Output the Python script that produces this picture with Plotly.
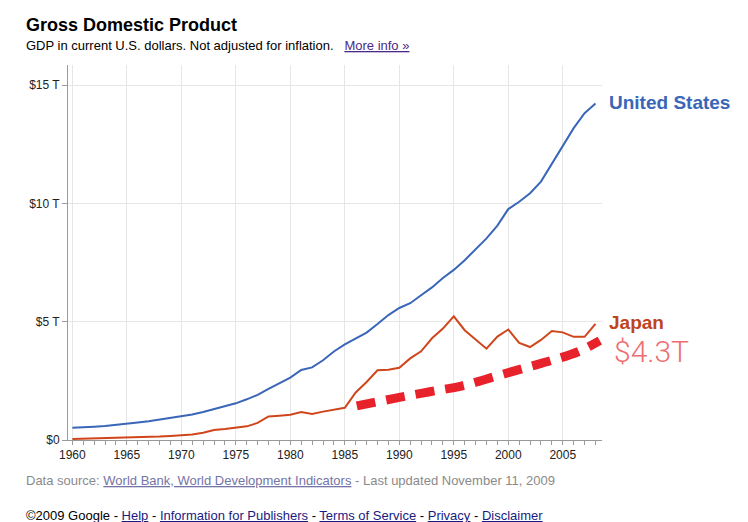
import plotly.graph_objects as go

years = list(range(1960, 2009))
us_gdp = [0.52, 0.53, 0.56, 0.59, 0.63, 0.68, 0.74, 0.79, 0.86, 0.93,
          0.99, 1.08, 1.18, 1.31, 1.43, 1.55, 1.72, 1.91, 2.16, 2.41,
          2.64, 2.96, 3.07, 3.37, 3.74, 4.04, 4.29, 4.54, 4.90, 5.28,
          5.58, 5.78, 6.12, 6.45, 6.85, 7.19, 7.60, 8.08, 8.52, 9.06,
          9.76, 10.07, 10.43, 10.92, 11.69, 12.42, 13.18, 13.81, 14.22]
jp_gdp = [0.044, 0.054, 0.061, 0.070, 0.083, 0.091, 0.106, 0.124, 0.147, 0.172,
          0.207, 0.234, 0.308, 0.424, 0.463, 0.512, 0.577, 0.722, 0.995, 1.03,
          1.07, 1.18, 1.10, 1.20, 1.27, 1.36, 2.01, 2.45, 2.95, 2.97,
          3.05, 3.45, 3.75, 4.30, 4.71, 5.23, 4.64, 4.26, 3.86, 4.37,
          4.67, 4.10, 3.93, 4.23, 4.61, 4.55, 4.36, 4.36, 4.91]
hand_years = [1986.1, 1987.6, 1990.0, 1992.8, 1995.7, 1998.9, 2001.7, 2004.1, 2006.4, 2008.4]
hand_vals = [1.44, 1.58, 1.80, 2.04, 2.28, 2.70, 3.07, 3.38, 3.73, 4.20]

y_tickvals = [0, 5, 10, 15]
y_ticktext = ["$0", "$5 T", "$10 T", "$15 T"]
x_tickvals = [1960, 1965, 1970, 1975, 1980, 1985, 1990, 1995, 2000, 2005]

L, R, T, B = 68, 602, 65, 440
W, H = 748, 522


def px(x):
    return (x - L) / (R - L)


def py(y):
    return (B - y) / (B - T)


fig = go.Figure()
fig.add_trace(go.Scatter(x=years, y=us_gdp, mode="lines",
                         line=dict(color="#3a66b8", width=2), hoverinfo="skip"))
fig.add_trace(go.Scatter(x=years, y=jp_gdp, mode="lines",
                         line=dict(color="#d0461c", width=2), hoverinfo="skip"))
fig.add_trace(go.Scatter(x=hand_years, y=hand_vals, mode="lines",
                         line=dict(color="#e8222a", width=9, dash="19px,11px", shape="spline"),
                         hoverinfo="skip"))

font = "Liberation Sans, Arial, sans-serif"
ann = []


def text(x, y, s, size, color="#000", anchor="left", yanchor="middle", family=font, weight=None):
    f = dict(family=family, size=size, color=color)
    if weight is not None:
        f["weight"] = weight
    ann.append(dict(x=px(x), y=py(y), xref="paper", yref="paper", text=s, showarrow=False,
                    xanchor=anchor, yanchor=yanchor, font=f))


text(24, 25, "<b>Gross Domestic Product</b>", 18)
text(24, 45, "GDP in current U.S. dollars. Not adjusted for inflation.   "
     "<span style='color:#4b2a8a;text-decoration:underline'>More info »</span>", 13)
text(607, 102, "<b>United States</b>", 19, color="#3a66b8")
text(607, 322, "<b>Japan</b>", 19, color="#c0431d")
text(612, 351, "$4.3T", 30, color="#ee6e72", family="Roboto, Lato, sans-serif", weight=300)
text(24, 480, "Data source: <span style='color:#7474a6;text-decoration:underline'>World Bank, World Development Indicators</span> - Last updated November 11, 2009",
     13, color="#8a8a8a")
lk = "color:#1a1a80;text-decoration:underline"
text(24, 515, "©2009 Google - <span style='%s'>Help</span> - <span style='%s'>Information for Publishers</span> - "
     "<span style='%s'>Terms of Service</span> - <span style='%s'>Privacy</span> - <span style='%s'>Disclaimer</span>" % ((lk,) * 5),
     13, color="#000")

fig.update_layout(
    width=W, height=H,
    margin=dict(l=L, r=W - R, t=T, b=H - B, pad=0),
    paper_bgcolor="white", plot_bgcolor="white",
    showlegend=False,
    annotations=ann,
    xaxis=dict(range=[1959.6, 2008.6], tickvals=x_tickvals, showgrid=True, gridcolor="#e6e6e6",
               gridwidth=1, zeroline=False, showline=True, linecolor="#9a9a9a", linewidth=1,
               ticks="outside", ticklen=4, tickcolor="#9a9a9a",
               minor=dict(dtick=1, tick0=1960, ticks="outside", ticklen=4, tickcolor="#9a9a9a", showgrid=False),
               tickfont=dict(family=font, size=12, color="#222")),
    yaxis=dict(range=[0, 15.85], tickvals=y_tickvals, ticktext=y_ticktext, showgrid=True,
               gridcolor="#e6e6e6", gridwidth=1, zeroline=False, showline=True,
               linecolor="#9a9a9a", linewidth=1, ticks="outside", ticklen=5, tickcolor="#9a9a9a",
               tickfont=dict(family=font, size=12, color="#222")),
)

fig.write_html("out.html")
